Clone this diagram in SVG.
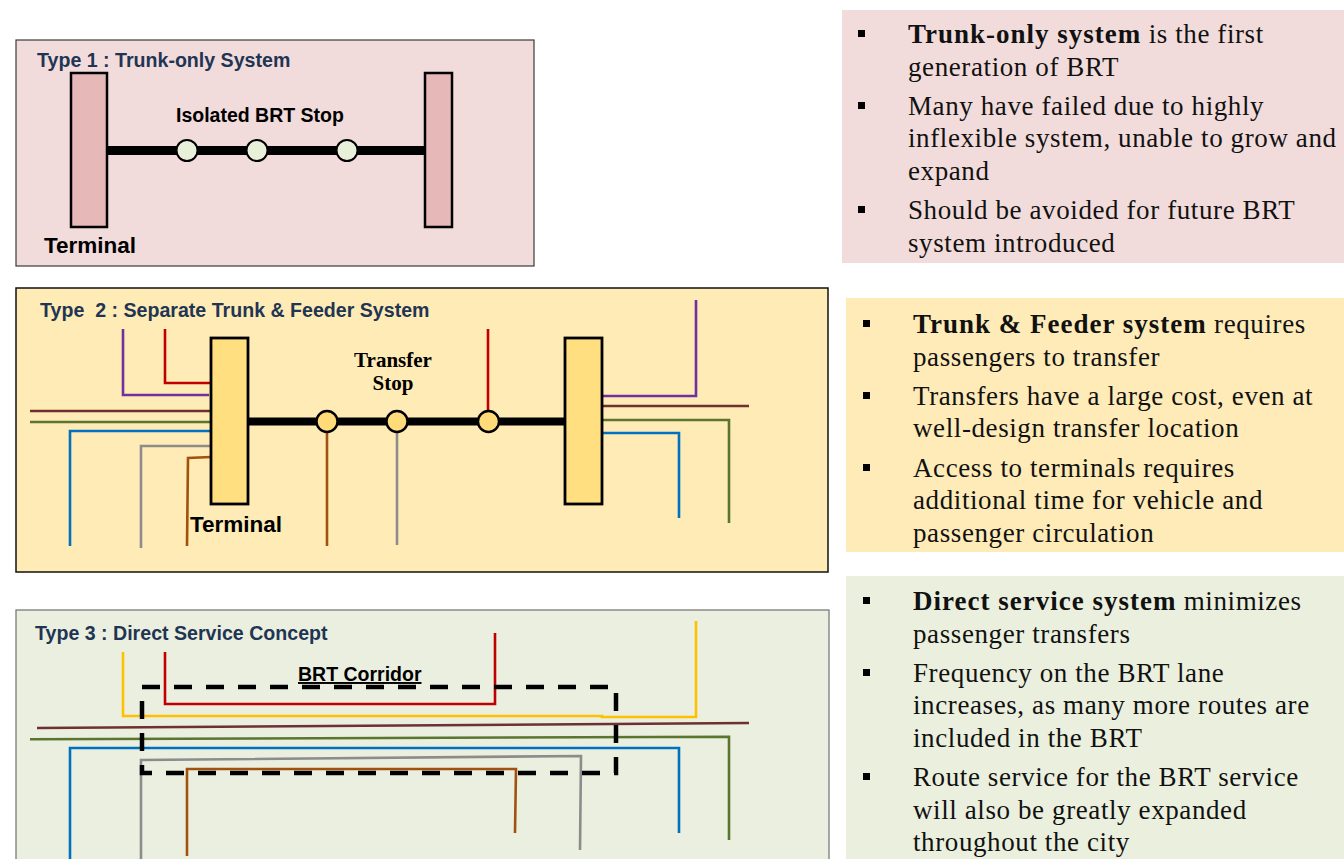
<svg xmlns="http://www.w3.org/2000/svg" width="1344" height="859" viewBox="0 0 1344 859">
  <style>
    .title { font-family: "Liberation Sans", Arial, sans-serif; font-weight: bold; font-size: 19.6px; fill: #1f3553; }
    .lbl { font-family: "Liberation Sans", Arial, sans-serif; font-weight: bold; font-size: 19.5px; fill: #000; }
    .term { font-family: "Liberation Sans", Arial, sans-serif; font-weight: bold; font-size: 22.5px; fill: #000; }
    .serifb { font-family: "Liberation Serif", "Times New Roman", serif; font-weight: bold; font-size: 21px; fill: #000; }
    .body { font-family: "Liberation Serif", "Times New Roman", serif; font-size: 27px; letter-spacing: 0.6px; fill: #111; }
    .body tspan.b { font-weight: bold; letter-spacing: 1px; }
    .route { fill: none; stroke-width: 2.6; stroke-linejoin: miter; }
    .trunk { stroke: #000; stroke-width: 9; }
    .bullet { fill: #000; }
  </style>

  <rect width="1344" height="859" fill="#ffffff"/>

  <!-- Type 1 panel -->
  <g id="type1">
    <rect x="16" y="40" width="518" height="226" fill="#f2dbdb" stroke="#3a3a3a" stroke-width="1.2"/>
    <text class="title" x="37" y="67">Type 1 : Trunk-only System</text>
    <line class="trunk" x1="107" y1="150.5" x2="425" y2="150.5"/>
    <g id="t1-terminal-left"><rect x="71" y="73" width="36" height="154" fill="#e6b8b7" stroke="#000" stroke-width="2.5"/></g>
    <g id="t1-terminal-right"><rect x="425" y="73" width="27" height="154" fill="#e6b8b7" stroke="#000" stroke-width="2.5"/></g>
    <g id="t1-stops" fill="#e9f0da" stroke="#000" stroke-width="2">
      <circle cx="187" cy="150.5" r="10.5"/>
      <circle cx="257" cy="150.5" r="10.5"/>
      <circle cx="347" cy="150.5" r="10.5"/>
    </g>
    <text class="lbl" x="176" y="122">Isolated BRT Stop</text>
    <text class="term" x="44" y="253">Terminal</text>
  </g>

  <!-- Type 2 panel -->
  <g id="type2">
    <rect x="16" y="288" width="812" height="284" fill="#ffebb5" stroke="#111" stroke-width="1.5"/>
    <text class="title" x="40" y="317" xml:space="preserve">Type  2 : Separate Trunk &amp; Feeder System</text>

    <g id="t2-routes">
      <polyline class="route" stroke="#7030a0" points="123,329 123,395 209,395"/>
      <polyline class="route" stroke="#c00000" points="165,329 165,383 211,383"/>
      <polyline class="route" stroke="#6e3030" points="30,411 211,411"/>
      <polyline class="route" stroke="#5a7530" points="30,422 211,422"/>
      <polyline class="route" stroke="#0070c0" points="211,431 70,431 70,546"/>
      <polyline class="route" stroke="#8c8c8c" points="211,446 141,446 141,548"/>
      <polyline class="route" stroke="#a0520f" points="211,457 188,458 187,546"/>
      <polyline class="route" stroke="#a0520f" points="327,430 327,546"/>
      <polyline class="route" stroke="#8c8c8c" points="397,430 397,545"/>
      <polyline class="route" stroke="#c00000" points="488,329 488,412"/>
      <polyline class="route" stroke="#7030a0" points="602,396 696,396 696,300"/>
      <polyline class="route" stroke="#6e3030" points="602,406 749,406"/>
      <polyline class="route" stroke="#5a7530" points="602,420 729,420 729,523"/>
      <polyline class="route" stroke="#0070c0" points="602,433 679,433 679,518"/>
    </g>

    <line class="trunk" x1="248" y1="421.5" x2="565" y2="421.5" style="stroke-width:8"/>
    <g id="t2-terminal-left"><rect x="211" y="338" width="37" height="166" fill="#ffdf80" stroke="#000" stroke-width="2.8"/></g>
    <g id="t2-terminal-right"><rect x="565" y="338" width="37" height="166" fill="#ffdf80" stroke="#000" stroke-width="2.8"/></g>
    <g id="t2-stops" fill="#ffdc79" stroke="#000" stroke-width="2.4">
      <circle cx="327" cy="421.5" r="10.5"/>
      <circle cx="397" cy="421.5" r="10.5"/>
      <circle cx="488.5" cy="421.5" r="10.5"/>
    </g>
    <text class="serifb" x="393" y="367" text-anchor="middle">Transfer</text>
    <text class="serifb" x="393" y="390" text-anchor="middle">Stop</text>
    <text class="term" x="190" y="532">Terminal</text>
  </g>

  <!-- Type 3 panel -->
  <g id="type3">
    <rect x="16" y="610" width="813" height="252" fill="#ebefdf" stroke="#7a7a7a" stroke-width="1.3"/>
    <text class="title" x="35" y="640">Type 3 : Direct Service Concept</text>

    <g id="t3-routes">
      <polyline class="route" stroke="#ffc000" points="123,652 123,716 602,716 602,717 696,717 696,621"/>
      <polyline class="route" stroke="#c00000" points="165,652 165,704 495,704 495,633"/>
      <polyline class="route" stroke="#6e3030" points="37,728 749,723"/>
      <polyline class="route" stroke="#5a7530" points="30,739.3 729,736.7 729,840"/>
      <polyline class="route" stroke="#0070c0" points="70,862 70,748 679,748 679,833"/>
      <polyline class="route" stroke="#8c8c8c" points="141,862 141,760 581,756 580,850"/>
      <polyline class="route" stroke="#a0520f" points="187,856 187,769 516,769 515,833"/>
    </g>

    <g id="t3-corridor">
      <path d="M142,687 H616 V773 H142 Z" fill="none" stroke="#000" stroke-width="4.5" stroke-dasharray="18 14"/>
      <text class="lbl" x="298" y="681" text-decoration="underline">BRT Corridor</text>
    </g>
  </g>

  <!-- Notes for Type 1 -->
  <g id="notes1">
    <rect x="842" y="10" width="502" height="253" fill="#f2dcdb"/>
    <rect class="bullet" x="858" y="30" width="7" height="7"/>
    <rect class="bullet" x="858" y="102" width="7" height="7"/>
    <rect class="bullet" x="858" y="206" width="7" height="7"/>
    <text class="body" x="908" y="43"><tspan class="b">Trunk-only system</tspan> is the first</text>
    <text class="body" x="908" y="76">generation of BRT</text>
    <text class="body" x="908" y="115">Many have failed due to highly</text>
    <text class="body" x="908" y="147">inflexible system, unable to grow and</text>
    <text class="body" x="908" y="180">expand</text>
    <text class="body" x="908" y="219">Should be avoided for future BRT</text>
    <text class="body" x="908" y="252">system introduced</text>
  </g>

  <!-- Notes for Type 2 -->
  <g id="notes2">
    <rect x="846" y="298" width="498" height="254" fill="#feebb8"/>
    <rect class="bullet" x="863" y="320" width="7" height="7"/>
    <rect class="bullet" x="863" y="392" width="7" height="7"/>
    <rect class="bullet" x="863" y="464" width="7" height="7"/>
    <text class="body" x="913" y="333"><tspan class="b">Trunk &amp; Feeder system</tspan> requires</text>
    <text class="body" x="913" y="366">passengers to transfer</text>
    <text class="body" x="913" y="405">Transfers have a large cost, even at</text>
    <text class="body" x="913" y="437">well-design transfer location</text>
    <text class="body" x="913" y="477">Access to terminals requires</text>
    <text class="body" x="913" y="509">additional time for vehicle and</text>
    <text class="body" x="913" y="542">passenger circulation</text>
  </g>

  <!-- Notes for Type 3 -->
  <g id="notes3">
    <rect x="846" y="576" width="498" height="283" fill="#ebf0de"/>
    <rect class="bullet" x="863" y="597" width="7" height="7"/>
    <rect class="bullet" x="863" y="669" width="7" height="7"/>
    <rect class="bullet" x="863" y="773" width="7" height="7"/>
    <text class="body" x="913" y="610"><tspan class="b">Direct service system</tspan> minimizes</text>
    <text class="body" x="913" y="643">passenger transfers</text>
    <text class="body" x="913" y="682">Frequency on the BRT lane</text>
    <text class="body" x="913" y="714">increases, as many more routes are</text>
    <text class="body" x="913" y="747">included in the BRT</text>
    <text class="body" x="913" y="786">Route service for the BRT service</text>
    <text class="body" x="913" y="819">will also be greatly expanded</text>
    <text class="body" x="913" y="851">throughout the city</text>
  </g>
</svg>
